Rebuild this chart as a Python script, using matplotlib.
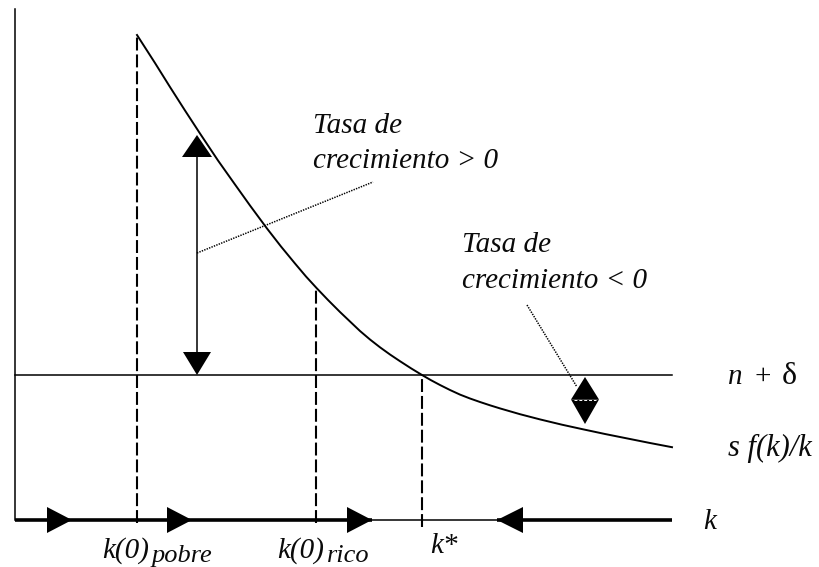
#!/usr/bin/env python

import numpy as np
import matplotlib
matplotlib.use('Agg')
import matplotlib.pyplot as plt

# curve s f(k)/k (k, y), axis origin at (0, 0)
curve_k = [122, 140, 155, 170, 185, 203, 220, 235, 252, 266,
	280, 291, 302, 313, 325, 335, 345, 355, 365, 375,
	385, 396, 407, 416, 425, 435, 445, 455, 465, 475,
	485, 505, 525, 547, 568, 590, 615, 635, 657]
curve_y = [485, 457, 433, 409.5, 386.5, 359.5, 335.5, 314.5, 291.5, 273.5,
	256.5, 243.5, 231.5, 220, 208, 198.5, 189, 180.5, 172.7, 165.5,
	158.8, 151.7, 145, 139.8, 135, 130, 125.4, 121.5, 118, 114.7,
	111.6, 105.8, 100.6, 95.3, 90.7, 86, 81, 77, 72.8]

n_delta = 145          # height of the n + delta line
k_end = 657            # right end of the k axis and of the lines
y_top = 511            # top of the vertical axis

k0_pobre = 122
k0_pobre_y = 485
k0_rico = 301
k0_rico_y = 232
k_star = 407

# arrows along the k axis (tip positions)
right_arrows = [57, 177, 357]
left_arrows = [482]

# growth rate arrows
pos_arrow_k = 182
pos_arrow_top = 385
neg_arrow_k = 570
neg_arrow_bottom = 96

# dotted leaders (from, to)
leader_pos = [(182, 267), (358, 338)]
leader_neg = [(512, 215), (562, 133)]

FONT = 'Liberation Serif'
FS = 21


def tri(ax, tip, direction, length, half):
	x, y = tip
	if direction == 'right':
		pts = [(x, y), (x - length, y + half), (x - length, y - half)]
	elif direction == 'left':
		pts = [(x, y), (x + length, y + half), (x + length, y - half)]
	elif direction == 'up':
		pts = [(x, y), (x - half, y - length), (x + half, y - length)]
	else:
		pts = [(x, y), (x - half, y + length), (x + half, y + length)]
	pts = np.array(pts)
	ax.fill(pts[:, 0], pts[:, 1], color='black', lw=0, zorder=5)


def txt(ax, x, y, s, size=FS, style='italic', va='baseline'):
	ax.text(x, y, s, fontsize=size, family=FONT, style=style, ha='left', va=va, color='#0a0a0a')


def main():
	fig = plt.figure(figsize=(8.2, 5.67), dpi=100)
	ax = fig.add_axes([0, 0, 1, 1])
	ax.set_xlim(-15, 805)
	ax.set_ylim(-47, 520)
	ax.axis('off')

	# vertical axis
	ax.plot([0, 0], [0, y_top], color='black', lw=1.1)

	# k axis: thick where k moves, thin between k(0)rico and the left arrow
	stop = right_arrows[-1]
	ax.plot([0, stop], [0, 0], color='black', lw=2.6, solid_capstyle='butt')
	ax.plot([stop, left_arrows[0]], [0, 0], color='black', lw=1.1)
	ax.plot([left_arrows[0], k_end], [0, 0], color='black', lw=2.6, solid_capstyle='butt')
	for a in right_arrows:
		tri(ax, (a, 0), 'right', 25, 13)
	for a in left_arrows:
		tri(ax, (a, 0), 'left', 26, 13)

	# n + delta line and the curve
	ax.plot([0, k_end], [n_delta, n_delta], color='black', lw=1.1)
	ax.plot(curve_k, curve_y, color='black', lw=1.4, solid_joinstyle='round')

	# dashed guides
	dash = (0, (6.2, 1.9))
	ax.plot([k0_pobre, k0_pobre], [-3, k0_pobre_y], color='black', lw=1.5, ls=dash)
	ax.plot([k0_rico, k0_rico], [-3, k0_rico_y], color='black', lw=1.5, ls=dash)
	ax.plot([k_star, k_star], [-7, n_delta], color='black', lw=1.5, ls=dash)

	# growth rate > 0 arrow
	ax.plot([pos_arrow_k, pos_arrow_k], [n_delta + 20, pos_arrow_top - 20], color='black', lw=1.1)
	tri(ax, (pos_arrow_k, pos_arrow_top), 'up', 22, 15)
	tri(ax, (pos_arrow_k, n_delta), 'down', 23, 14)

	# growth rate < 0 diamond
	mid = (n_delta + neg_arrow_bottom) / 2.0
	tri(ax, (neg_arrow_k, n_delta - 2), 'up', n_delta - 2 - mid, 14)
	tri(ax, (neg_arrow_k, neg_arrow_bottom), 'down', mid - neg_arrow_bottom, 14)
	ax.plot([neg_arrow_k - 11, neg_arrow_k + 11], [mid, mid], color='white', lw=0.7, ls=(0, (3, 2)), zorder=6)

	# dotted leaders
	for ld in (leader_pos, leader_neg):
		ax.plot([ld[0][0], ld[1][0]], [ld[0][1], ld[1][1]], color='black', lw=1.1, ls=(0, (0.9, 0.8)))

	# labels
	txt(ax, 298, 387, 'Tasa de')
	txt(ax, 298, 352, 'crecimiento > 0')
	txt(ax, 447, 268, 'Tasa de')
	txt(ax, 447, 232, 'crecimiento < 0')

	txt(ax, 713, 143, 'n', va='center')
	txt(ax, 740, 143, '+', style='normal', va='center')
	txt(ax, 767, 143, 'δ', size=23, style='normal', va='center')
	txt(ax, 713, 72, 's f(k)/k', size=22, va='center')
	txt(ax, 688, -2, 'k', va='center')

	txt(ax, 87, -38, 'k(0)')
	txt(ax, 137, -42, 'pobre', size=19)
	txt(ax, 262, -38, 'k(0)')
	txt(ax, 312, -42, 'rico', size=19)
	txt(ax, 415, -33, 'k*')

	fig.savefig('out.png', dpi=100)


if __name__ == '__main__':
	main()
